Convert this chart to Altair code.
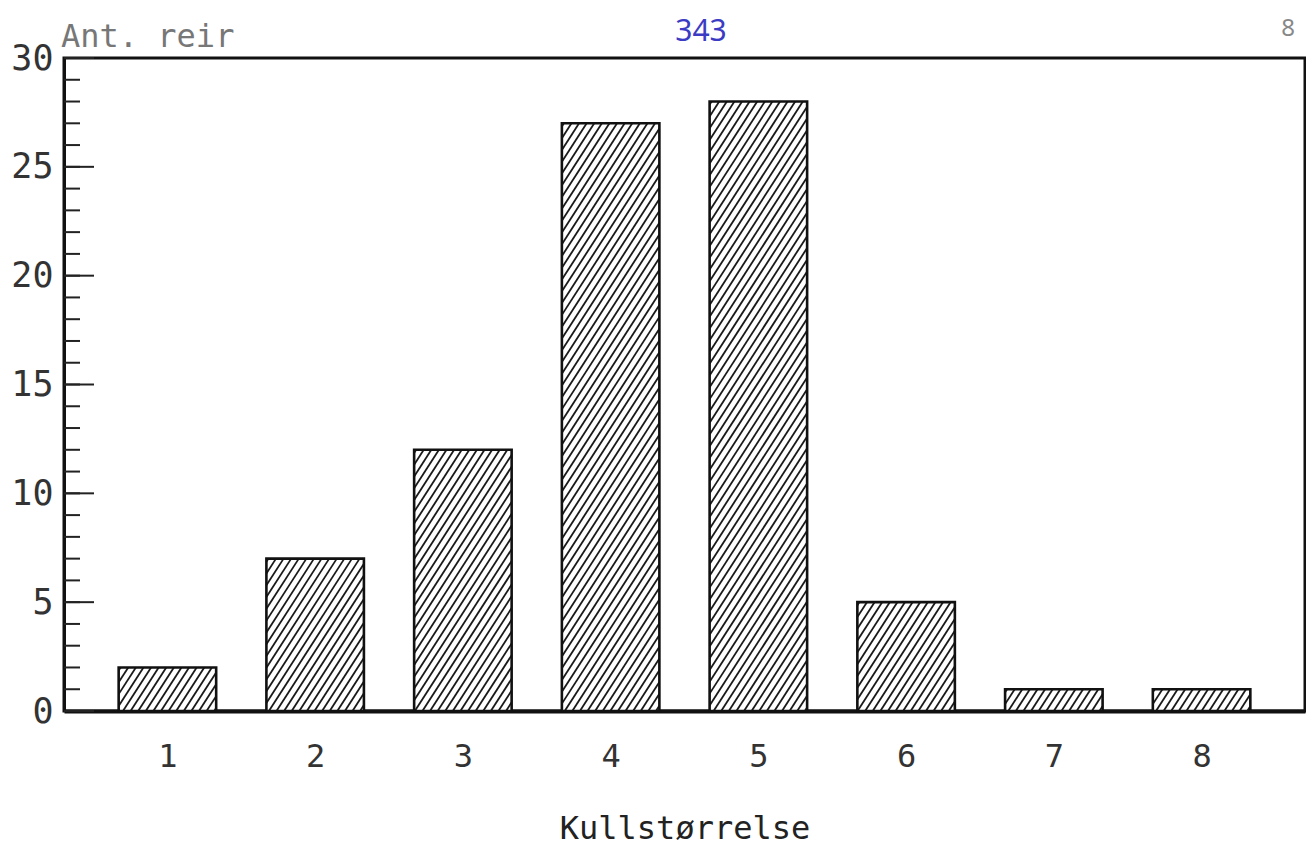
import altair as alt
import pandas as pd
import numpy as np

# ---- data ----
kull = [1, 2, 3, 4, 5, 6, 7, 8]
antall = [2, 7, 12, 27, 28, 5, 1, 1]
y_minor_ticks = list(range(0, 31))
y_major_ticks = [0, 5, 10, 15, 20, 25, 30]
x_title = ["Kullstørrelse"]
y_title = ["Ant. reir"]
note_blue = ["343"]
note_corner = ["8"]

W, H = 1241, 653
XMIN, XMAX = 0.3, 8.7
YMAX = 30
HALF = 0.33
SX = W / (XMAX - XMIN)
SY = H / YMAX

bars = pd.DataFrame({"kull": kull, "antall": antall})

# hatch lines derived from the bar data (decoration inside each bar)
slope = 1.55
step = 7.6
rows = []
for k, v in zip(kull, antall):
    a = (k - HALF - XMIN) * SX
    b = (k + HALF - XMIN) * SX
    h = v * SY
    c = a - h / slope + 2
    while c < b:
        ylo = max(0.0, (a - c) * slope)
        yhi = min(h, (b - c) * slope)
        if yhi > ylo:
            rows.append({
                "x1": (c + ylo / slope) / SX + XMIN,
                "x2": (c + yhi / slope) / SX + XMIN,
                "y1": ylo / SY,
                "y2": yhi / SY,
            })
        c += step
hatch = pd.DataFrame(rows)

xscale = alt.Scale(domain=[XMIN, XMAX], nice=False, zero=False)
yscale = alt.Scale(domain=[0, YMAX], nice=False)

FONT = "DejaVu Sans Mono"

base = alt.Chart(bars).transform_calculate(
    x0=f"datum.kull - {HALF}", x1=f"datum.kull + {HALF}"
)

fill = base.mark_rect(fill="white", stroke=None).encode(
    x=alt.X("x0:Q", scale=xscale,
            axis=alt.Axis(values=kull, format="d", ticks=False, grid=False,
                          domainColor="#111", domainWidth=4,
                          labelFont=FONT, labelFontSize=32, labelColor="#333",
                          labelPadding=30, title=x_title[0],
                          titleFont=FONT, titleFontSize=32, titleFontWeight="normal",
                          titleColor="#222", titlePadding=41)),
    x2="x1:Q",
    y=alt.Y("antall:Q", scale=yscale,
            axis=alt.Axis(values=y_major_ticks, ticks=False, grid=False,
                          domainColor="#111", domainWidth=3,
                          labelFont=FONT, labelFontSize=35, labelColor="#333",
                          labelPadding=11, title=None)),
    y2=alt.datum(0),
)

hatch_lines = alt.Chart(hatch).mark_rule(color="#1a1a1a", strokeWidth=1.8).encode(
    x=alt.X("x1:Q", scale=xscale), x2="x2:Q",
    y=alt.Y("y1:Q", scale=yscale), y2="y2:Q",
)

outline = base.mark_rect(fill=None, stroke="#111", strokeWidth=2.6).encode(
    x=alt.X("x0:Q", scale=xscale), x2="x1:Q",
    y=alt.Y("antall:Q", scale=yscale), y2=alt.datum(0),
)

minor = alt.Chart(pd.DataFrame({"v": y_minor_ticks})).mark_rule(
    color="#222", strokeWidth=2).encode(
    y=alt.Y("v:Q", scale=yscale), x=alt.value(0), x2=alt.value(16))

major = alt.Chart(pd.DataFrame({"v": y_major_ticks})).mark_rule(
    color="#222", strokeWidth=2).encode(
    y=alt.Y("v:Q", scale=yscale), x=alt.value(0), x2=alt.value(30))

ytitle = alt.Chart(pd.DataFrame({"t": y_title})).mark_text(
    font=FONT, fontSize=32, color="#777", align="left", baseline="alphabetic"
).encode(text="t:N", x=alt.value(-3), y=alt.value(-11))

blue = alt.Chart(pd.DataFrame({"t": note_blue})).mark_text(
    font="Noto Sans", fontSize=30, color="#3b3bc4", align="center",
    baseline="alphabetic"
).encode(text="t:N", x=alt.value(637), y=alt.value(-17))

corner = alt.Chart(pd.DataFrame({"t": note_corner})).mark_text(
    font="Noto Sans", fontSize=24, color="#888", align="center",
    baseline="alphabetic"
).encode(text="t:N", x=alt.value(1224), y=alt.value(-22))

chart = alt.layer(fill, hatch_lines, outline, minor, major, ytitle, blue, corner).properties(
    width=W, height=H,
    autosize=alt.AutoSizeParams(type="none"),
    padding={"left": 56, "top": 50, "right": 1, "bottom": 140},
    background="white",
).configure_view(stroke="#111", strokeWidth=3)

chart.save("out.html", embed_options={"renderer": "svg", "actions": False})
